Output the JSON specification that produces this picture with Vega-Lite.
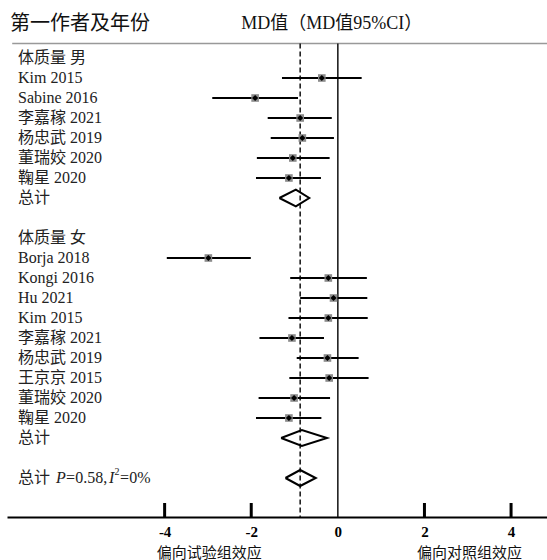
{
  "$schema": "https://vega.github.io/schema/vega-lite/v6.json",
  "width": 540,
  "height": 517,
  "autosize": {"type": "none"},
  "padding": {"left": 7, "top": 0, "right": 0, "bottom": 43},
  "background": "white",
  "config": {
    "view": {"stroke": null},
    "text": {"font": "Liberation Serif, Noto Sans CJK SC", "fontSize": 16, "color": "#222", "align": "left", "baseline": "middle"}
  },
  "datasets": {
    "studies": [
      {"row": 0, "label": "体质量 男"},
      {"row": 1, "label": "Kim 2015", "est": -0.37, "lo": -1.29, "hi": 0.55},
      {"row": 2, "label": "Sabine 2016", "est": -1.91, "lo": -2.9, "hi": -0.92},
      {"row": 3, "label": "李嘉稼 2021", "est": -0.87, "lo": -1.62, "hi": -0.14},
      {"row": 4, "label": "杨忠武 2019", "est": -0.82, "lo": -1.55, "hi": -0.09},
      {"row": 5, "label": "董瑞姣 2020", "est": -1.04, "lo": -1.87, "hi": -0.19},
      {"row": 6, "label": "鞠星 2020", "est": -1.13, "lo": -1.89, "hi": -0.39},
      {"row": 7, "label": "总计"},
      {"row": 9, "label": "体质量 女"},
      {"row": 10, "label": "Borja 2018", "est": -2.99, "lo": -3.95, "hi": -2.01},
      {"row": 11, "label": "Kongi 2016", "est": -0.22, "lo": -1.1, "hi": 0.67},
      {"row": 12, "label": "Hu 2021", "est": -0.1, "lo": -0.87, "hi": 0.68},
      {"row": 13, "label": "Kim 2015", "est": -0.22, "lo": -1.14, "hi": 0.69},
      {"row": 14, "label": "李嘉稼 2021", "est": -1.06, "lo": -1.81, "hi": -0.32},
      {"row": 15, "label": "杨忠武 2019", "est": -0.24, "lo": -0.95, "hi": 0.48},
      {"row": 16, "label": "王京京 2015", "est": -0.2, "lo": -1.12, "hi": 0.71},
      {"row": 17, "label": "董瑞姣 2020", "est": -1.01, "lo": -1.83, "hi": -0.18},
      {"row": 18, "label": "鞠星 2020", "est": -1.13, "lo": -1.89, "hi": -0.38},
      {"row": 19, "label": "总计"}
    ],
    "diamonds": [
      {"g": "male", "ord": 0, "x": -1.35, "row": 7},
      {"g": "male", "ord": 1, "x": -0.97, "row": 6.58},
      {"g": "male", "ord": 2, "x": -0.66, "row": 7},
      {"g": "male", "ord": 3, "x": -0.97, "row": 7.42},
      {"g": "male", "ord": 4, "x": -1.35, "row": 7},
      {"g": "female", "ord": 0, "x": -1.31, "row": 19},
      {"g": "female", "ord": 1, "x": -0.83, "row": 18.6},
      {"g": "female", "ord": 2, "x": -0.25, "row": 19},
      {"g": "female", "ord": 3, "x": -0.83, "row": 19.4},
      {"g": "female", "ord": 4, "x": -1.31, "row": 19},
      {"g": "all", "ord": 0, "x": -1.21, "row": 21},
      {"g": "all", "ord": 1, "x": -0.87, "row": 20.6},
      {"g": "all", "ord": 2, "x": -0.51, "row": 21},
      {"g": "all", "ord": 3, "x": -0.87, "row": 21.4},
      {"g": "all", "ord": 4, "x": -1.21, "row": 21}
    ],
    "tickvals": [
      {"t": -4}, {"t": -2}, {"t": 2}, {"t": 4}
    ],
    "headers": [
      {"x": -7.57, "row": -1.7, "label": "第一作者及年份", "size": 20},
      {"x": -2.23, "row": -1.7, "label": "MD值（MD值95%CI）", "size": 18}
    ],
    "footer": [
      {"x": -2.97, "label": "偏向试验组效应"},
      {"x": 3.04, "label": "偏向对照组效应"}
    ],
    "overall": [
      {"x": -7.385, "row": 21, "label": "总计", "italic": false, "size": 16},
      {"x": -6.506, "row": 21, "label": "P", "italic": true, "size": 16},
      {"x": -6.275, "row": 21, "label": "=0.58,", "italic": false, "size": 16},
      {"x": -5.282, "row": 21, "label": "I", "italic": true, "size": 16},
      {"x": -5.155, "row": 20.7, "label": "2", "italic": false, "size": 10},
      {"x": -5.028, "row": 21, "label": "=0%", "italic": false, "size": 16}
    ]
  },
  "layer": [
    {
      "data": {"values": [{}]},
      "mark": {"type": "rule", "color": "#999", "strokeWidth": 1.5},
      "encoding": {
        "x": {"datum": -7.52, "type": "quantitative", "title": null, "scale": {"domain": [-7.64, 4.83], "nice": false, "zero": false}},
        "x2": {"datum": 4.83},
        "y": {"datum": -0.72, "type": "quantitative", "scale": {"domain": [-2.9, 22.95], "reverse": true, "nice": false, "zero": false}, "axis": null}
      }
    },
    {
      "data": {"values": [{}]},
      "mark": {"type": "rule", "color": "#111", "strokeWidth": 1.5, "strokeDash": [5, 3]},
      "encoding": {
        "x": {"datum": -0.87, "type": "quantitative", "title": null},
        "y": {"datum": -0.72, "type": "quantitative"},
        "y2": {"datum": 22.95}
      }
    },
    {
      "data": {"values": [{}]},
      "mark": {"type": "rule", "color": "#111", "strokeWidth": 1.5},
      "encoding": {
        "x": {"datum": 0, "type": "quantitative", "title": null},
        "y": {"datum": -0.72, "type": "quantitative"},
        "y2": {"datum": 22.95}
      }
    },
    {
      "data": {"name": "tickvals"},
      "mark": {"type": "rule", "color": "#000000", "strokeWidth": 3},
      "encoding": {
        "x": {"field": "t", "type": "quantitative", "title": null},
        "y": {"datum": 22.25, "type": "quantitative"},
        "y2": {"datum": 22.95}
      }
    },
    {
      "data": {"name": "studies"},
      "transform": [{"filter": "isValid(datum.est)"}],
      "mark": {"type": "rule", "color": "black", "strokeWidth": 2},
      "encoding": {
        "x": {
          "field": "lo", "type": "quantitative", "title": null,
          "axis": {
            "values": [-4, -2, 0, 2, 4],
            "grid": false,
            "domainColor": "black",
            "domainWidth": 2,
            "ticks": false,
            "labelFont": "Liberation Serif",
            "labelFontWeight": "bold",
            "labelFontSize": 15,
            "labelColor": "black",
            "labelPadding": 7,
            "labelExpr": "'' + datum.value",
            "zindex": 0
          }
        },
        "x2": {"field": "hi"},
        "y": {"field": "row", "type": "quantitative"}
      }
    },
    {
      "data": {"name": "studies"},
      "transform": [{"filter": "isValid(datum.est)"}],
      "mark": {"type": "point", "shape": "square", "filled": true, "color": "#8c8c8c", "size": 58, "opacity": 1},
      "encoding": {
        "x": {"field": "est", "type": "quantitative", "title": null},
        "y": {"field": "row", "type": "quantitative"}
      }
    },
    {
      "data": {"name": "studies"},
      "transform": [{"filter": "isValid(datum.est)"}],
      "mark": {"type": "point", "shape": "diamond", "filled": true, "color": "black", "size": 38, "opacity": 1},
      "encoding": {
        "x": {"field": "est", "type": "quantitative", "title": null},
        "y": {"field": "row", "type": "quantitative"}
      }
    },
    {
      "data": {"name": "diamonds"},
      "mark": {"type": "line", "color": "black", "strokeWidth": 2, "strokeJoin": "miter"},
      "encoding": {
        "x": {"field": "x", "type": "quantitative", "title": null},
        "y": {"field": "row", "type": "quantitative"},
        "detail": {"field": "g"},
        "order": {"field": "ord", "type": "quantitative"}
      }
    },
    {
      "data": {"name": "studies"},
      "mark": {"type": "text"},
      "encoding": {
        "x": {"datum": -7.385, "type": "quantitative", "title": null},
        "y": {"field": "row", "type": "quantitative"},
        "text": {"field": "label"}
      }
    },
    {
      "data": {"name": "headers"},
      "mark": {"type": "text", "color": "#111"},
      "encoding": {
        "x": {"field": "x", "type": "quantitative", "title": null},
        "y": {"field": "row", "type": "quantitative"},
        "text": {"field": "label"},
        "size": {"field": "size", "type": "quantitative", "scale": null, "legend": null}
      }
    },
    {
      "data": {"name": "overall"},
      "transform": [{"filter": "!datum.italic"}],
      "mark": {"type": "text"},
      "encoding": {
        "x": {"field": "x", "type": "quantitative", "title": null},
        "y": {"field": "row", "type": "quantitative"},
        "text": {"field": "label"},
        "size": {"field": "size", "type": "quantitative", "scale": null, "legend": null}
      }
    },
    {
      "data": {"name": "overall"},
      "transform": [{"filter": "datum.italic"}],
      "mark": {"type": "text", "fontStyle": "italic"},
      "encoding": {
        "x": {"field": "x", "type": "quantitative", "title": null},
        "y": {"field": "row", "type": "quantitative"},
        "text": {"field": "label"},
        "size": {"field": "size", "type": "quantitative", "scale": null, "legend": null}
      }
    },
    {
      "data": {"name": "footer"},
      "mark": {"type": "text", "align": "center", "fontSize": 15, "color": "#111"},
      "encoding": {
        "x": {"field": "x", "type": "quantitative", "title": null},
        "y": {"datum": 24.75, "type": "quantitative"},
        "text": {"field": "label"}
      }
    }
  ]
}
